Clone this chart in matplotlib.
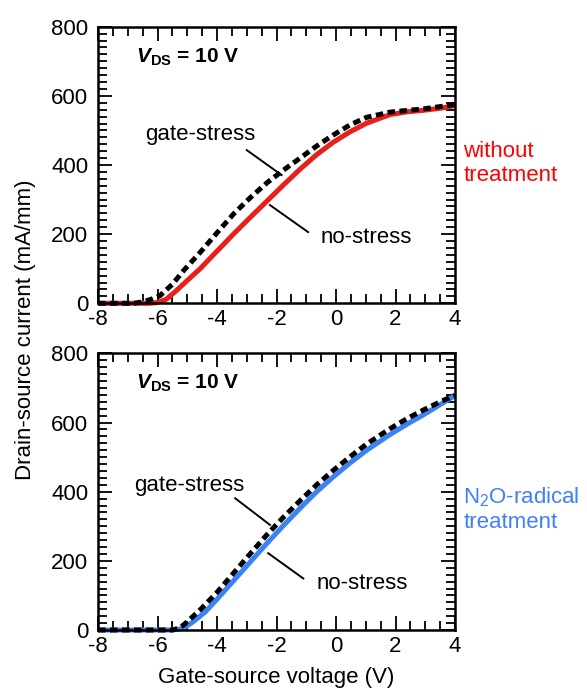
import matplotlib
matplotlib.use('Agg')
import matplotlib.pyplot as plt
from matplotlib.ticker import MultipleLocator

plt.rcParams['font.family'] = ['Liberation Sans', 'DejaVu Sans']
plt.rcParams['axes.unicode_minus'] = False
plt.rcParams['mathtext.fontset'] = 'custom'
plt.rcParams['mathtext.rm'] = 'Liberation Sans'
plt.rcParams['mathtext.it'] = 'Liberation Sans:italic'
plt.rcParams['mathtext.bf'] = 'Liberation Sans:bold'
plt.rcParams['mathtext.bfit'] = 'Liberation Sans:bold:italic'
plt.rcParams['mathtext.default'] = 'regular'

# gate-source voltage (V) and drain current (mA/mm)
v_top_ns = [-8.0, -7.0, -6.3, -6.0, -5.7, -5.35, -5.0, -4.57, -4.01, -3.45, -2.89, -2.33, -1.77, -1.21, -0.65, -0.09, 0.47, 1.03, 1.82, 2.4, 2.92, 3.5, 4.0]
i_top_ns = [0, 0, 0, 2, 12, 38, 66, 100, 150, 200, 248, 295, 342, 388, 430, 466, 496, 521, 546, 554, 558, 564, 572]
v_top_gs = [-8.0, -7.0, -6.8, -6.5, -6.2, -5.92, -5.5, -5.13, -4.57, -4.01, -3.45, -2.89, -2.33, -1.77, -1.21, -0.65, -0.09, 0.47, 1.03, 1.82, 2.4, 2.92, 3.5, 4.0]
i_top_gs = [0, 0, 0, 4, 12, 22, 55, 94, 147, 203, 258, 305, 348, 385, 420, 455, 487, 516, 538, 553, 558, 562, 569, 575]

v_bot_ns = [-8.0, -7.0, -6.0, -5.5, -5.24, -5.0, -4.8, -4.4, -4.01, -3.45, -2.89, -2.33, -1.77, -1.21, -0.65, -0.09, 0.47, 1.03, 1.81, 2.4, 2.93, 3.5, 4.0]
i_bot_ns = [0, 0, 0, 0, 3, 12, 24, 52, 88, 142, 196, 250, 302, 352, 400, 443, 483, 520, 565, 596, 622, 652, 678]
v_bot_gs = [-8.0, -7.0, -6.0, -5.5, -5.3, -5.13, -4.57, -4.01, -3.45, -2.89, -2.33, -1.77, -1.21, -0.65, -0.09, 0.47, 1.03, 1.81, 2.4, 2.93, 3.5, 4.0]
i_bot_gs = [0, 0, 0, 0, 5, 14, 58, 108, 164, 220, 275, 326, 374, 420, 462, 501, 538, 582, 612, 636, 660, 679]

red_line = '#e8201c'
blue_line = '#3a82f5'

fig = plt.figure(figsize=(5.87, 6.92), dpi=100)
ax1 = fig.add_axes([0.167, 0.5617, 0.6082, 0.3997])
ax2 = fig.add_axes([0.167, 0.0896, 0.6082, 0.3997])


def style_axis(ax):
    ax.set_xlim(-8, 4)
    ax.set_ylim(0, 800)
    ax.xaxis.set_major_locator(MultipleLocator(2))
    ax.xaxis.set_minor_locator(MultipleLocator(0.5))
    ax.yaxis.set_major_locator(MultipleLocator(200))
    ax.yaxis.set_minor_locator(MultipleLocator(20))
    ax.tick_params(which='both', direction='in', top=True, right=True, width=1.3)
    ax.tick_params(axis='x', which='major', length=10, pad=4, labelsize=16)
    ax.tick_params(axis='x', which='minor', length=6.5)
    ax.tick_params(axis='y', which='major', length=10, pad=7, labelsize=16)
    ax.tick_params(axis='y', which='minor', length=6.5)
    for s in ax.spines.values():
        s.set_linewidth(1.8)
    ax.text(-6.72, 712, r'$\mathbfit{V}_{\mathbf{DS}}$ = 10 V', fontsize=15,
            fontweight='bold', ha='left', va='center')


style_axis(ax1)
style_axis(ax2)

ax1.plot(v_top_ns, i_top_ns, color=red_line, lw=3.6, solid_capstyle='butt',
         solid_joinstyle='round', clip_on=False)
ax1.plot(v_top_gs, i_top_gs, color='black', lw=3.6, linestyle=(0, (1.5, 0.9)), clip_on=False)
ax2.plot(v_bot_ns, i_bot_ns, color=blue_line, lw=3.6, solid_capstyle='butt',
         solid_joinstyle='round', clip_on=False)
ax2.plot(v_bot_gs, i_bot_gs, color='black', lw=3.6, linestyle=(0, (1.5, 0.9)), clip_on=False)

# annotations
ax1.text(-4.55, 487, 'gate-stress', fontsize=16, ha='center', va='center')
ax1.plot([-3.0, -1.83], [443, 371], color='black', lw=1.4)
ax1.text(1.0, 190, 'no-stress', fontsize=16, ha='center', va='center')
ax1.plot([-2.22, -0.94], [284, 206], color='black', lw=1.4)

ax2.text(-4.94, 418, 'gate-stress', fontsize=16, ha='center', va='center')
ax2.plot([-3.39, -2.22], [381, 304], color='black', lw=1.4)
ax2.text(0.89, 135, 'no-stress', fontsize=16, ha='center', va='center')
ax2.plot([-2.28, -1.10], [222, 149], color='black', lw=1.4)

fig.text(0.789, 0.764, 'without\ntreatment', color='#ff0000', fontsize=16,
         ha='left', va='center', linespacing=1.2)
fig.text(0.789, 0.264, 'N$_2$O-radical\ntreatment', color='#3f7fff', fontsize=16,
         ha='left', va='center', linespacing=1.2)

fig.text(0.043, 0.523, 'Drain-source current (mA/mm)', rotation=90, fontsize=16,
         ha='center', va='center')
fig.text(0.470, 0.021, 'Gate-source voltage (V)', fontsize=16, ha='center', va='center')

fig.savefig('out.png', dpi=100)
